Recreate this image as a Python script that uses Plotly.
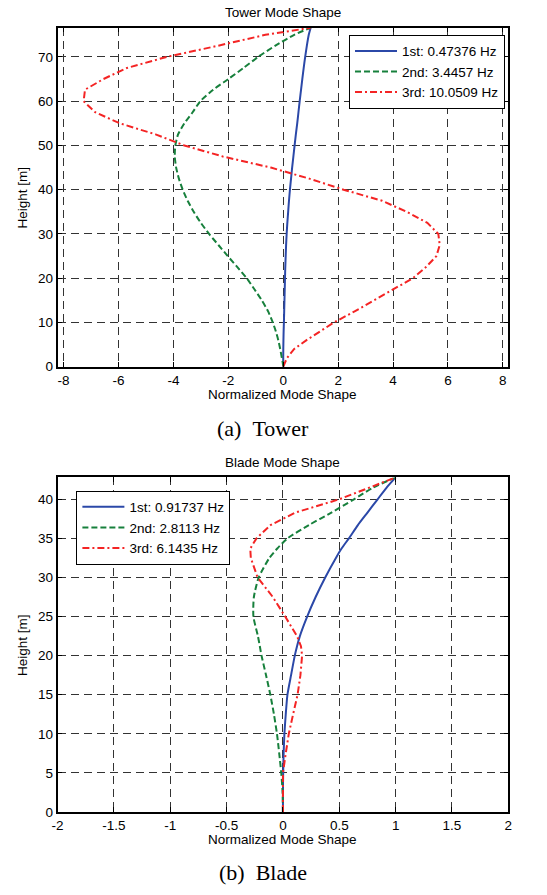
import plotly.graph_objects as go

# ---------------- Data ----------------
tower_height = [0, 1, 2, 4, 6, 8, 10, 12.5, 15, 17.5, 20, 22.5, 25, 27.5, 30, 32.5,
                35, 37.5, 40, 42.5, 45, 47.5, 50, 52.5, 55, 57.5, 60, 62.6, 65, 67.5,
                70, 72.5, 75, 76.6]
tower_mode1 = [0, 0, 0, 0.003, 0.008, 0.015, 0.025, 0.035, 0.045, 0.055, 0.065, 0.075,
               0.09, 0.105, 0.125, 0.15, 0.18, 0.21, 0.245, 0.285, 0.325, 0.37, 0.415,
               0.46, 0.51, 0.555, 0.6, 0.65, 0.695, 0.745, 0.8, 0.86, 0.93, 1.0]
tower_mode2 = [0, -0.02, -0.05, -0.11, -0.18, -0.27, -0.38, -0.55, -0.78, -1.05, -1.33,
               -1.67, -2.02, -2.36, -2.7, -3.0, -3.26, -3.48, -3.66, -3.8, -3.9, -3.95,
               -3.93, -3.83, -3.6, -3.3, -3.02, -2.55, -2.0, -1.45, -0.92, -0.3, 0.4, 1.0]
tower_mode3 = [0, 0.06, 0.14, 0.4, 0.85, 1.35, 1.85, 2.6, 3.3, 4.0, 4.72, 5.2, 5.58,
               5.7, 5.65, 5.25, 4.5, 3.6, 2.2, 0.95, -0.45, -2.2, -3.6, -4.65, -5.95,
               -6.85, -7.27, -7.22, -6.55, -5.7, -4.25, -2.4, -0.65, 1.0]

blade_height = [0, 2.5, 5, 7.5, 10, 12.5, 15, 17.5, 20, 21.2, 22.5, 25, 27.5, 30, 32.5,
                33.7, 35, 36.7, 38.3, 40, 41.5, 42.8]
blade_mode1 = [0, 0, 0.002, 0.006, 0.013, 0.025, 0.04, 0.072, 0.105, 0.125, 0.15, 0.215,
               0.29, 0.375, 0.47, 0.52, 0.585, 0.665, 0.75, 0.84, 0.92, 1.0]
blade_mode2 = [0, -0.003, -0.015, -0.033, -0.053, -0.08, -0.112, -0.15, -0.19, -0.205,
               -0.222, -0.262, -0.258, -0.215, -0.12, -0.05, 0.04, 0.23, 0.43, 0.63, 0.8, 1.0]
blade_mode3 = [0, 0, 0, 0.025, 0.052, 0.09, 0.13, 0.155, 0.17, 0.16, 0.125, 0.02, -0.09,
               -0.225, -0.285, -0.29, -0.235, -0.11, 0.11, 0.5, 0.76, 1.0]

tower_names = ["1st: 0.47376 Hz", "2nd: 3.4457 Hz", "3rd: 10.0509 Hz"]
blade_names = ["1st: 0.91737 Hz", "2nd: 2.8113 Hz", "3rd: 6.1435 Hz"]

tower_xticks = [-8, -6, -4, -2, 0, 2, 4, 6, 8]
tower_xticktext = ["-8", "-6", "-4", "-2", "0", "2", "4", "6", "8"]
tower_yticks = [0, 10, 20, 30, 40, 50, 60, 70]
blade_xticks = [-2, -1.5, -1, -0.5, 0, 0.5, 1, 1.5, 2]
blade_xticktext = ["-2", "-1.5", "-1", "-0.5", "0", "0.5", "1", "1.5", "2"]
blade_yticks = [0, 5, 10, 15, 20, 25, 30, 35, 40]

# ---------------- Styling ----------------
W, H = 547, 895
FONT = "Liberation Sans, Arial, sans-serif"
SERIF = "Liberation Serif, Times New Roman, serif"
colors = ["#2b48a8", "#17803c", "#f42424"]
dashes = ["solid", "6px,3px", "7px,3px,2px,3px"]
shapes_ = ["spline", "spline", "linear"]

def px_x(p):
    return p / W

def px_y(p):
    return 1 - p / H

fig = go.Figure()

for vals, name, c, d, s in zip([tower_mode1, tower_mode2, tower_mode3], tower_names, colors, dashes, shapes_):
    fig.add_trace(go.Scatter(x=vals, y=tower_height, mode="lines", name=name,
                             line=dict(color=c, width=2, dash=d, shape=s, smoothing=0.6),
                             xaxis="x", yaxis="y", legend="legend"))
for vals, name, c, d, s in zip([blade_mode1, blade_mode2, blade_mode3], blade_names, colors, dashes, shapes_):
    fig.add_trace(go.Scatter(x=vals, y=blade_height, mode="lines", name=name,
                             line=dict(color=c, width=2, dash=d, shape=s, smoothing=0.6),
                             xaxis="x2", yaxis="y2", legend="legend2"))

axis_common = dict(showline=True, linecolor="black", linewidth=1.5, mirror="ticks",
                   ticks="inside", ticklen=5, tickcolor="black", tickwidth=1,
                   showgrid=True, gridcolor="#333333", gridwidth=1, griddash="8px,5px",
                   zeroline=False, tickfont=dict(family=FONT, size=13.5, color="black"))

xdom = [px_x(52.5), px_x(511.7)]
fig.update_layout(
    width=W, height=H, margin=dict(l=0, r=0, t=0, b=0),
    paper_bgcolor="white", plot_bgcolor="white",
    font=dict(family=FONT, size=13.5, color="black"),
    xaxis=dict(domain=xdom, anchor="y", range=[-8.22, 8.2], tickmode="array",
               tickvals=tower_xticks, ticktext=tower_xticktext, **axis_common),
    yaxis=dict(domain=[px_y(370), px_y(28)], anchor="x", range=[0, 76.6],
               tickmode="array", tickvals=tower_yticks, **axis_common),
    xaxis2=dict(domain=xdom, anchor="y2", range=[-2, 2], tickmode="array",
                tickvals=blade_xticks, ticktext=blade_xticktext, **axis_common),
    yaxis2=dict(domain=[px_y(819.3), px_y(481.7)], anchor="x2", range=[0, 42.8],
                tickmode="array", tickvals=blade_yticks, **axis_common),
    legend=dict(x=px_x(508.3), xanchor="right", y=px_y(35), yanchor="top",
                bgcolor="white", bordercolor="black", borderwidth=1,
                font=dict(family=FONT, size=13.5), itemwidth=42, tracegroupgap=0),
    legend2=dict(x=px_x(71.7), xanchor="left", y=px_y(495), yanchor="top",
                 bgcolor="white", bordercolor="black", borderwidth=1,
                 font=dict(family=FONT, size=13.5), itemwidth=42, tracegroupgap=0),
)

cx = (52.5 + 511.7) / 2
annots = [
    ("Tower Mode Shape", cx, 12.7, 0, FONT, 13.5),
    ("Normalized Mode Shape", cx, 397.7, 0, FONT, 13.5),
    ("Height [m]", 16.7, 199, -90, FONT, 13.5),
    ("Blade Mode Shape", cx, 466.7, 0, FONT, 13.5),
    ("Normalized Mode Shape", cx, 846.7, 0, FONT, 13.5),
    ("Height [m]", 16.7, 650.5, -90, FONT, 13.5),
    ("(a)\u00a0\u00a0Tower", 261.7, 432, 0, SERIF, 22),
    ("(b)\u00a0\u00a0Blade", 261.7, 880, 0, SERIF, 22),
]
for text, x, y, ang, fam, size in annots:
    fig.add_annotation(text=text, x=px_x(x), y=px_y(y), xref="paper", yref="paper",
                       xanchor="center", yanchor="middle", showarrow=False,
                       textangle=ang, font=dict(family=fam, size=size, color="black"))

fig.write_html("out.html")
